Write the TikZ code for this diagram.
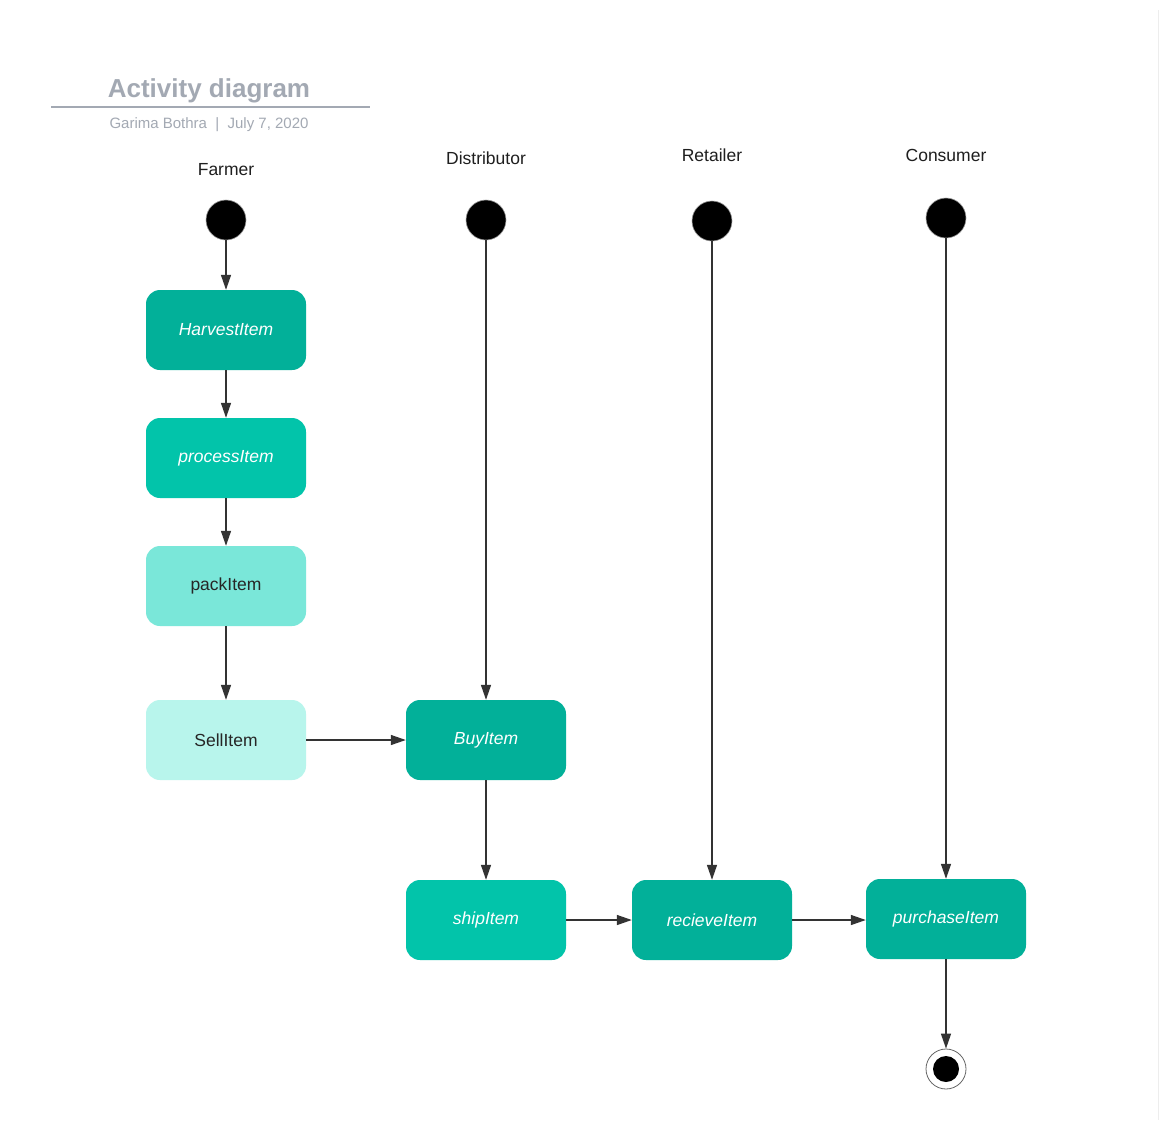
\documentclass[tikz,border=0pt]{standalone}
\usepackage{fontspec}
\setmainfont{Liberation Sans}
\usetikzlibrary{arrows.meta}
\definecolor{tealdark}{HTML}{02B099}
\definecolor{tealmid}{HTML}{02C4AA}
\definecolor{teallight}{HTML}{7AE7D9}
\definecolor{tealpale}{HTML}{B8F5EC}
\definecolor{titlegrey}{HTML}{A3A9B3}
\definecolor{linegrey}{HTML}{333333}
\tikzset{
  act/.style={rectangle, rounded corners=14pt, minimum width=160pt, minimum height=80pt, inner sep=0pt, font=\fontsize{17.5}{20}\selectfont},
  darkact/.style={act, fill=tealdark, text=white, font=\fontsize{17.5}{20}\selectfont\itshape},
  midact/.style={act, fill=tealmid, text=white, font=\fontsize{17.5}{20}\selectfont\itshape},
  lightact/.style={act, fill=teallight, text=black!85},
  paleact/.style={act, fill=tealpale, text=black!85},
  startnode/.style={circle, fill=black, draw=black!40, line width=0.6pt, minimum size=40pt, inner sep=0pt},
  lanelabel/.style={font=\fontsize{17.5}{20}\selectfont, text=black!88},
  flow/.style={draw=linegrey, line width=1.4pt, -{Triangle[length=15pt, width=10pt]}},
}
\begin{document}
\begin{tikzpicture}[x=1pt, y=-1pt]
\useasboundingbox (0,0) rectangle (1159,1120);
\fill[white] (0,0) rectangle (1159,1120);
\draw[black!7, line width=1pt] (1158,10) -- (1158,1120);

% title
\node[font=\fontsize{26}{30}\selectfont\bfseries, text=titlegrey] (title) at (209,91) {Activity diagram};
\draw[titlegrey, line width=2pt] (51,107) -- (370,107);
\node[font=\fontsize{15}{18}\selectfont, text=titlegrey] (subtitle) at (209,124.5) {Garima Bothra\ \ |\ \ July 7, 2020};

% lane labels
\node[lanelabel] (lfarmer) at (226,170) {Farmer};
\node[lanelabel] (ldist) at (486,158) {Distributor};
\node[lanelabel] (lret) at (712,155) {Retailer};
\node[lanelabel] (lcons) at (946,155) {Consumer};

% start nodes
\node[startnode] (sfarmer) at (226,220) {};
\node[startnode] (sdist) at (486,220) {};
\node[startnode] (sret) at (712,221) {};
\node[startnode] (scons) at (946,218) {};

% activities
\node[darkact] (harvest) at (226,330) {HarvestItem};
\node[midact] (process) at (226,458) {processItem};
\node[lightact] (pack) at (226,586) {packItem};
\node[paleact] (sell) at (226,740) {SellItem};
\node[darkact] (buy) at (486,740) {BuyItem};
\node[midact] (ship) at (486,920) {shipItem};
\node[darkact] (recieve) at (712,920) {recieveItem};
\node[darkact] (purchase) at (946,919) {purchaseItem};

% end node
\node[circle, draw=black!60, fill=white, line width=0.8pt, minimum size=40pt, inner sep=0pt] (endnode) at (946,1069) {};
\node[circle, fill=black, minimum size=26pt, inner sep=0pt] (endcore) at (946,1069) {};

% flows
\draw[flow] (sfarmer) -- (harvest);
\draw[flow] (harvest) -- (process);
\draw[flow] (process) -- (pack);
\draw[flow] (pack) -- (sell);
\draw[flow] (sell) -- (buy);
\draw[flow] (sdist) -- (buy);
\draw[flow] (buy) -- (ship);
\draw[flow] (ship) -- (recieve);
\draw[flow] (sret) -- (recieve);
\draw[flow] (recieve) -- (purchase.west |- recieve.east);
\draw[flow] (scons) -- (purchase);
\draw[flow] (purchase) -- (endnode);
\end{tikzpicture}
\end{document}
